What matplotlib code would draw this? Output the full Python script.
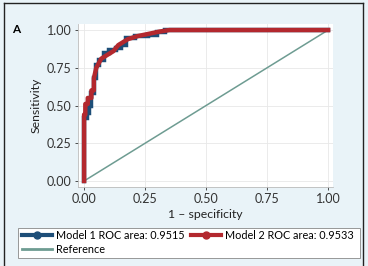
import matplotlib
matplotlib.use("Agg")
import matplotlib.pyplot as plt
from matplotlib.lines import Line2D
from matplotlib.patches import Rectangle

plt.rcParams['font.family'] = ['Lato', 'DejaVu Sans']

# Data
fpr1 = [0, 0, 0.01, 0.01, 0.02, 0.02, 0.03, 0.03, 0.04, 0.04, 0.05, 0.05, 0.06, 0.06,
        0.08, 0.08, 0.10, 0.10, 0.13, 0.13, 0.15, 0.15, 0.17, 0.17, 0.21, 0.21, 0.26,
        0.26, 0.30, 0.30, 0.33, 0.33, 1.0]
tpr1 = [0, 0.42, 0.42, 0.45, 0.45, 0.50, 0.50, 0.58, 0.58, 0.68, 0.68, 0.77, 0.77, 0.80,
        0.80, 0.85, 0.85, 0.87, 0.87, 0.88, 0.88, 0.90, 0.90, 0.95, 0.95, 0.96, 0.96,
        0.97, 0.97, 0.99, 0.99, 1.0, 1.0]
fpr2 = [0, 0, 0.005, 0.005, 0.015, 0.015, 0.03, 0.03, 0.04, 0.04, 0.05, 0.06, 0.07, 0.09,
        0.11, 0.12, 0.13, 0.14, 0.16, 0.18, 0.20, 0.22, 0.25, 0.28, 0.31, 0.35, 1.0]
tpr2 = [0, 0.44, 0.44, 0.51, 0.51, 0.55, 0.55, 0.60, 0.60, 0.68, 0.75, 0.78, 0.81, 0.83,
        0.85, 0.86, 0.88, 0.90, 0.92, 0.94, 0.95, 0.96, 0.97, 0.98, 0.99, 1.0, 1.0]
ref_x = [0, 1]
ref_y = [0, 1]
ticks = [0, 0.25, 0.5, 0.75, 1.0]
tick_labels = ["0.00", "0.25", "0.50", "0.75", "1.00"]
label1 = "Model 1 ROC area: 0.9515"
label2 = "Model 2 ROC area: 0.9533"
label_ref = "Reference"

BLUE = "#1d4e78"
RED = "#b3282e"
REF = "#6e9c92"
BG = "#e9f3f8"

fig = plt.figure(figsize=(3.68, 2.66), dpi=100, facecolor=BG)
ax = fig.add_axes([78/368, 1-187/266, 255/368, 163/266])
ax.set_facecolor("white")

ax.plot(ref_x, ref_y, color=REF, lw=1.1, zorder=2)
ax.plot(fpr1, tpr1, color=BLUE, lw=3.2, solid_joinstyle='miter', zorder=3)
ax.plot(fpr2, tpr2, color=RED, lw=3.2, solid_joinstyle='round', zorder=4)

ax.set_xlim(-0.025, 1.02)
ax.set_ylim(-0.04, 1.04)
ax.set_xticks(ticks)
ax.set_xticklabels(tick_labels)
ax.set_yticks(ticks)
ax.set_yticklabels(tick_labels)
ax.tick_params(labelsize=9, colors="#333333", length=2.5, width=0.6, pad=2)
ax.grid(True, color="#e8e8e8", lw=0.6)
ax.set_axisbelow(True)
for s in ['top', 'right']:
    ax.spines[s].set_visible(False)
for s in ['left', 'bottom']:
    ax.spines[s].set_color("#bbbbbb")
    ax.spines[s].set_linewidth(0.6)
ax.set_xlabel("1 – specificity", fontsize=8.8, color="#222222", labelpad=3)
ax.set_ylabel("Sensitivity", fontsize=8.8, color="#222222", labelpad=4)

fig.text(12/368, 1-30/266, "A", fontsize=8.5, fontweight="bold", va="center", ha="left")

# legend frame drawn separately to span the full width
fig.add_artist(Rectangle((18/368, 1-258/266), 342/368, 30/266, transform=fig.transFigure,
                         facecolor="white", edgecolor="#888888", lw=0.6, zorder=1))

handles = [
    Line2D([], [], color=BLUE, lw=3, marker='o', markersize=5, markevery=[1]),
    Line2D([], [], color=REF, lw=2),
    Line2D([], [], color=RED, lw=3, marker='o', markersize=5, markevery=[1]),
]
leg = fig.legend(handles, [label1, label_ref, label2], ncol=2,
                 loc="upper left", bbox_to_anchor=(21/368, 1-229/266),
                 fontsize=7.8, frameon=False,
                 handlelength=2.8, handletextpad=0.35, columnspacing=0.6,
                 labelspacing=0.3, borderpad=0.05, borderaxespad=0)
leg.set_zorder(2)

# frame border (top, left, right)
fig.add_artist(Line2D([3.5/368, 3.5/368], [0, 1-2.5/266], color="#222222", lw=1.0, transform=fig.transFigure))
fig.add_artist(Line2D([362.5/368, 362.5/368], [0, 1-2.5/266], color="#222222", lw=1.0, transform=fig.transFigure))
fig.add_artist(Line2D([3.5/368, 362.5/368], [1-2.5/266, 1-2.5/266], color="#222222", lw=1.0, transform=fig.transFigure))

fig.savefig("out.png", dpi=100, facecolor=BG)
